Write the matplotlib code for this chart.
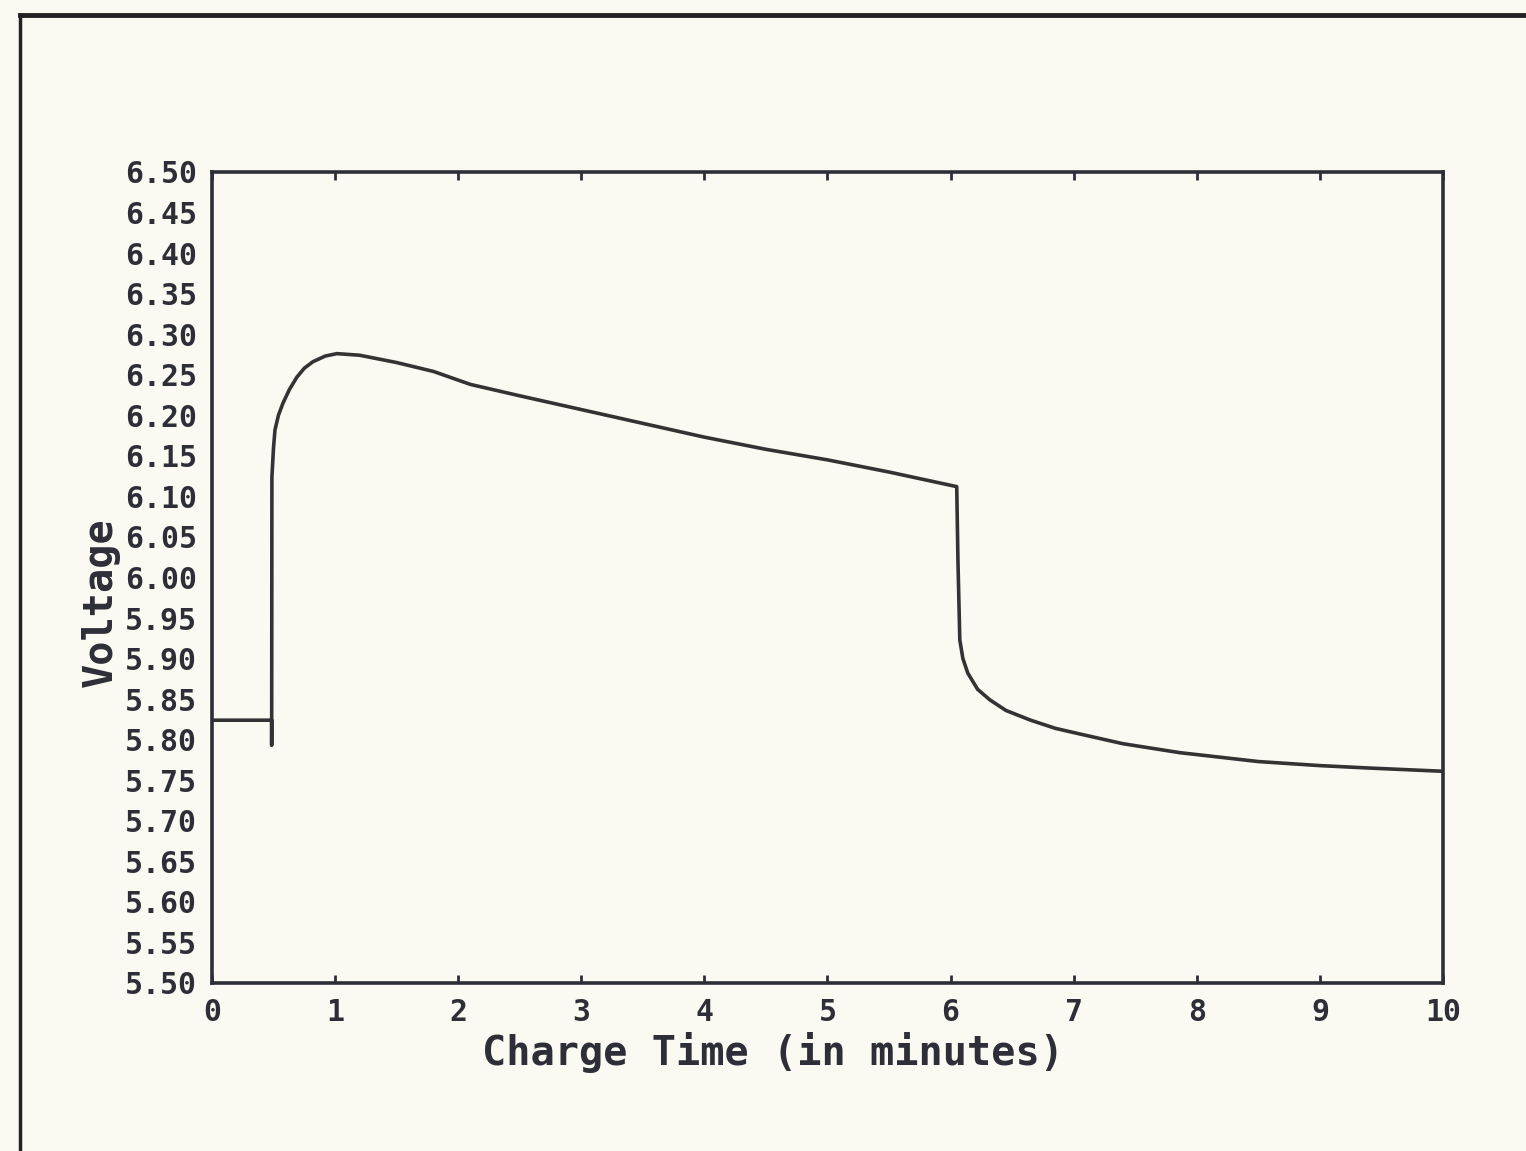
import matplotlib.pyplot as plt
from matplotlib.lines import Line2D
import numpy as np

# charge curve (minutes, volts)
charge_time = [0.0, 0.485, 0.485, 0.487, 0.50, 0.512, 0.54, 0.577, 0.63, 0.69,
               0.75, 0.82, 0.92, 1.015, 1.20, 1.5, 1.8, 2.1, 2.5, 3.0,
               3.5, 4.0, 4.5, 5.0, 5.5, 6.05, 6.06, 6.075, 6.10, 6.14,
               6.22, 6.32, 6.45, 6.65, 6.85, 7.05, 7.4, 7.86, 8.5, 9.0,
               9.4, 10.0]
voltage = [5.824, 5.824, 5.793, 6.124, 6.16, 6.182, 6.20, 6.215, 6.232, 6.247,
           6.258, 6.266, 6.273, 6.276, 6.274, 6.265, 6.254, 6.238, 6.224, 6.207,
           6.19, 6.173, 6.158, 6.145, 6.13, 6.112, 6.02, 5.923, 5.90, 5.882,
           5.862, 5.849, 5.836, 5.824, 5.814, 5.807, 5.795, 5.784, 5.773, 5.768,
           5.765, 5.761]

x_ticks = list(range(0, 11))
y_ticks = [round(5.50 + 0.05 * i, 2) for i in range(21)]

paper = '#fbfaf2'
ink = '#2e2e38'

fig = plt.figure(figsize=(15.26, 11.51), dpi=100, facecolor=paper)
ax = fig.add_axes([0.1389, 0.1460, 0.8067, 0.7046], facecolor=paper)

ax.plot(charge_time, voltage, color='#333333', linewidth=2.6)

ax.set_xlim(0, 10)
ax.set_ylim(5.50, 6.50)
ax.set_xticks(x_ticks)
ax.set_yticks(y_ticks)
ax.set_yticklabels([f"{v:.2f}" for v in y_ticks])

mono = 'DejaVu Sans Mono'
for lab in ax.get_xticklabels() + ax.get_yticklabels():
    lab.set_fontfamily(mono)
    lab.set_fontweight('bold')
    lab.set_fontsize(21.5)
    lab.set_color(ink)

ax.tick_params(axis='x', direction='in', top=True, bottom=True,
               length=6, width=2, color=ink, pad=11)
ax.tick_params(axis='y', length=0, pad=11)

for s in ax.spines.values():
    s.set_color(ink)
    s.set_linewidth(2.6)

ax.set_xlabel('Charge Time (in minutes)', fontfamily=mono, fontsize=29,
              fontweight='semibold', color=ink)
ax.xaxis.set_label_coords(0.456, -0.061)
ax.set_ylabel('Voltage', fontfamily=mono, fontsize=29,
              fontweight='semibold', color=ink)
ax.yaxis.set_label_coords(-0.075, 0.47)

# frame of the scanned page
fig.add_artist(Line2D([0.013, 1.0], [0.987, 0.987], color='#222222',
                      linewidth=3.5, transform=fig.transFigure))
fig.add_artist(Line2D([0.013, 0.013], [0.0, 0.987], color='#222222',
                      linewidth=2.5, transform=fig.transFigure))

fig.savefig('out.png', dpi=100, facecolor=paper)
